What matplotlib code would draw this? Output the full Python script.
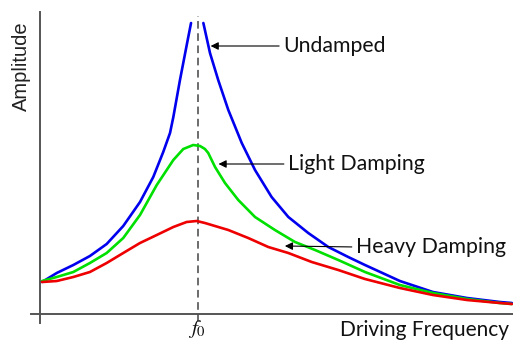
import matplotlib
matplotlib.use("Agg")
import matplotlib.pyplot as plt

# frequencies in units of f0, amplitudes in arbitrary units
blue_left_f = [0.013, 0.106, 0.211, 0.316, 0.422, 0.527, 0.633, 0.717, 0.780, 0.823,
               0.844, 0.886, 0.930, 0.956]
blue_left_a = [0.32, 0.41, 0.49, 0.58, 0.70, 0.88, 1.12, 1.37, 1.62, 1.81,
               1.97, 2.34, 2.70, 2.91]

blue_right_f = [1.034, 1.076, 1.128, 1.192, 1.277, 1.361, 1.466, 1.572, 1.698, 1.825,
                1.951, 2.057, 2.278, 2.487, 2.703, 2.911, 2.987]
blue_right_a = [2.91, 2.61, 2.34, 2.04, 1.71, 1.44, 1.17, 0.97, 0.81, 0.67,
                0.57, 0.49, 0.33, 0.22, 0.16, 0.12, 0.11]

green_f = [0.013, 0.106, 0.211, 0.316, 0.422, 0.527, 0.633, 0.739, 0.844, 0.907, 0.970,
           1.013, 1.044, 1.065, 1.108, 1.171, 1.255, 1.361, 1.487, 1.614, 1.741, 1.888,
           2.057, 2.278, 2.487, 2.703, 2.911, 2.987]
green_a = [0.33, 0.37, 0.42, 0.51, 0.61, 0.76, 0.99, 1.29, 1.54, 1.65, 1.69,
           1.68, 1.65, 1.61, 1.47, 1.31, 1.14, 0.97, 0.84, 0.72, 0.64, 0.54,
           0.42, 0.29, 0.21, 0.15, 0.11, 0.10]

red_f = [0.013, 0.106, 0.211, 0.316, 0.422, 0.527, 0.633, 0.739, 0.844, 0.928, 0.992,
         1.044, 1.192, 1.318, 1.445, 1.572, 1.720, 1.888, 2.057, 2.278, 2.487, 2.703,
         2.911, 2.987]
red_a = [0.32, 0.33, 0.37, 0.42, 0.51, 0.61, 0.71, 0.79, 0.87, 0.92, 0.93,
         0.91, 0.84, 0.76, 0.67, 0.61, 0.52, 0.44, 0.35, 0.26, 0.19, 0.14,
         0.11, 0.10]

labels = ["Undamped", "Light Damping", "Heavy Damping"]
arrow_tips = [(1.08, 2.68), (1.13, 1.50), (1.55, 0.68)]
label_pos = [(1.54, 2.68), (1.57, 1.50), (2.00, 0.67)]

f0 = 1.0

fig = plt.figure(figsize=(5.13, 3.42), dpi=100)
ax = fig.add_axes([40 / 513, 28 / 342, 473 / 513, 302 / 342])
ax.set_xlim(0, 2.994)
ax.set_ylim(0, 3.02)
ax.axis("off")

axis_col = "#555555"
# hand drawn axes, extending a little past the origin
ax.plot([0, 0], [-0.09, 3.02], color=axis_col, lw=1.4, clip_on=False)
ax.plot([-0.057, 2.994], [0, 0], color=axis_col, lw=1.4, clip_on=False)
ax.plot([f0, f0], [-0.08, 2.98], color="#444444", lw=1.1, ls=(0, (5, 3)), clip_on=False)

style = dict(lw=1.9, solid_joinstyle="round", solid_capstyle="round")
ax.plot(blue_left_f, blue_left_a, color="#0000ee", **style)
ax.plot(blue_right_f, blue_right_a, color="#0000ee", **style)
ax.plot(green_f, green_a, color="#00e000", **style)
ax.plot(red_f, red_a, color="#ee0000", **style)

for txt, tip, pos in zip(labels, arrow_tips, label_pos):
    ax.annotate(txt, xy=tip, xytext=pos, fontsize=15.3, family="Lato",
                color="#111111", ha="left", va="center",
                arrowprops=dict(arrowstyle="-|>,head_length=0.3,head_width=0.15",
                                color="black", lw=0.8, shrinkA=1, shrinkB=0,
                                relpos=(0, 0.5)))

fig.text(21 / 513, 1 - 66 / 342, "Amplitude", rotation=90, ha="center", va="center",
         fontsize=14.5, family="Liberation Sans", color="#222222")
fig.text(340 / 513, 1 - 330 / 342, "Driving Frequency", ha="left", va="center",
         fontsize=15, family="Lato", color="#111111")
plt.rcParams["mathtext.fontset"] = "stix"
fig.text(197 / 513, 1 - 318 / 342, r"$f_0$", ha="center", va="top",
         fontsize=15, color="#111111")

fig.savefig("out.png", dpi=100)
